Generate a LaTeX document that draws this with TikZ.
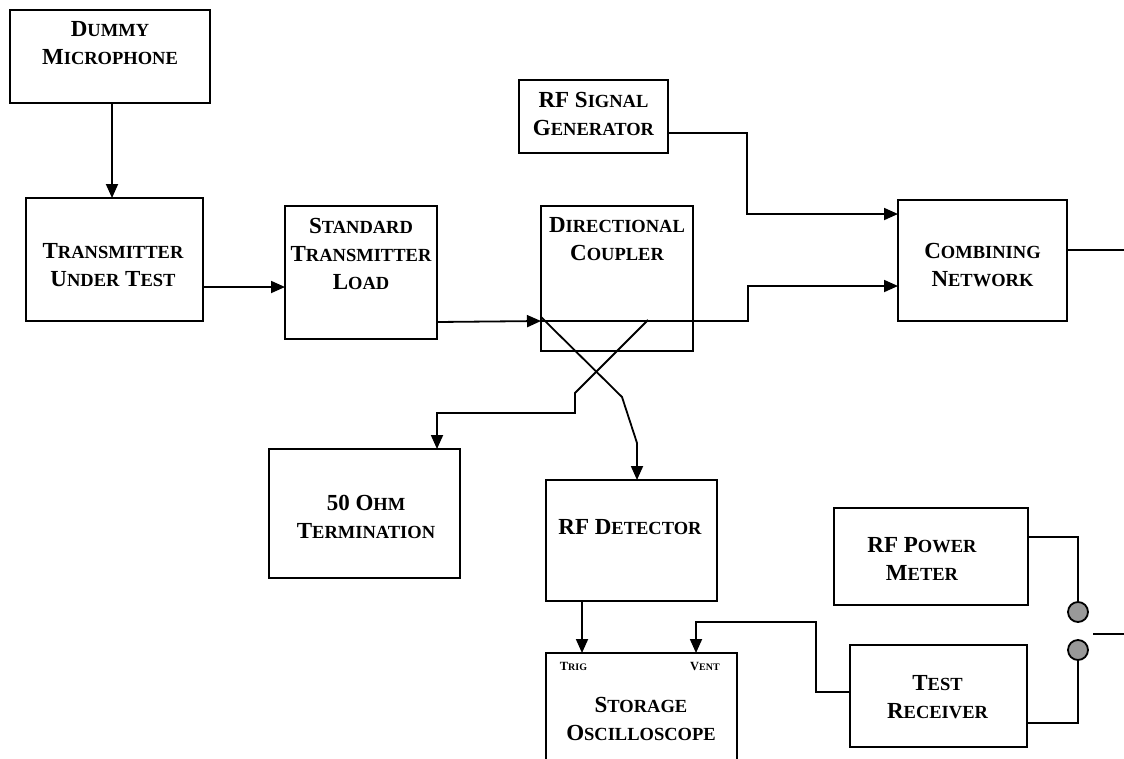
\documentclass[tikz,border=0pt]{standalone}
\usepackage{fontspec}
\setmainfont{Liberation Serif}
\usetikzlibrary{arrows.meta}
\newcommand\Bg{\fontsize{23}{28}\selectfont}
\newcommand\Sm{\fontsize{18.5}{28}\selectfont}
\newcommand\kp[2]{{\Bg #1}{\Sm #2}}
\newcommand\tBg{\fontsize{12.5}{14}\selectfont}
\newcommand\tSm{\fontsize{10}{14}\selectfont}
\newcommand\tkp[2]{{\tBg #1}{\tSm #2}}
\tikzset{
  box/.style={draw, line width=2pt, inner sep=0pt, outer sep=0pt},
  lbl/.style={font=\bfseries\Bg, align=center, inner sep=0pt},
  tlbl/.style={font=\bfseries\tBg, inner sep=0pt},
  wire/.style={line width=1.8pt},
  arr/.style={wire, -{Triangle[length=14pt,width=12pt]}},
  dot/.style={circle, draw, line width=1.8pt, fill=black!40, minimum size=20pt, inner sep=0pt, outer sep=0pt}
}
\newcommand\mkbox[5]{\node[box, minimum width={(#4)-(#2)}, minimum height={(#5)-(#3)}] (#1) at ({((#2)+(#4))/2},{((#3)+(#5))/2}) {};}
\begin{document}
\begin{tikzpicture}[x=1pt,y=-1pt]
\useasboundingbox (0,0) rectangle (1124,758);
\clip (0,0) rectangle (1124,758);
% boxes
\mkbox{dm}{10}{10}{210}{103}
\mkbox{tut}{26}{198}{203}{321}
\mkbox{stl}{285}{206}{437}{339}
\mkbox{dc}{541}{206}{693}{351}
\mkbox{sg}{519}{80}{668}{153}
\mkbox{cn}{898}{200}{1067}{321}
\mkbox{term}{269}{449}{460}{578}
\mkbox{rfd}{546}{480}{717}{601}
\mkbox{pm}{834}{508}{1028}{605}
\mkbox{so}{546}{653}{737}{790}
\mkbox{tr}{850}{645}{1027}{747}
\node[dot] (c1) at (1078,612) {};
\node[dot] (c2) at (1078,650) {};
% labels
\node[lbl] (tdm) at (110,43) {\kp{D}{UMMY}\\\kp{M}{ICROPHONE}};
\node[lbl] (ttut) at (113,265) {\kp{T}{RANSMITTER}\\\kp{U}{NDER} \kp{T}{EST}};
\node[lbl] (tstl) at (361,253.5) {\kp{S}{TANDARD}\\\kp{T}{RANSMITTER}\\\kp{L}{OAD}};
\node[lbl] (tdc) at (617,239) {\kp{D}{IRECTIONAL}\\\kp{C}{OUPLER}};
\node[lbl] (tsg) at (593.5,114) {\kp{RF S}{IGNAL}\\\kp{G}{ENERATOR}};
\node[lbl] (tcn) at (982.5,265.5) {\kp{C}{OMBINING}\\\kp{N}{ETWORK}};
\node[lbl] (tterm) at (366,516.5) {\kp{50 O}{HM}\\\kp{T}{ERMINATION}};
\node[lbl] (trfd) at (630,527) {\kp{RF D}{ETECTOR}};
\node[lbl] (tpm) at (922,558.5) {\kp{RF P}{OWER}\\\kp{M}{ETER}};
\node[lbl] (ttr) at (937.5,697) {\kp{T}{EST}\\\kp{R}{ECEIVER}};
\node[lbl] (tso) at (641,719) {\kp{S}{TORAGE}\\\kp{O}{SCILLOSCOPE}};
\node[tlbl] (trig) at (573.5,666) {\tkp{T}{RIG}};
\node[tlbl] (vent) at (705,666) {\tkp{V}{ENT}};
% free coordinates
\coordinate (dcx) at (648,320);
\coordinate (cnout) at (1124,250);
\coordinate (swa) at (1093,634);
\coordinate (swb) at (1124,634);
% connectors
\draw[arr] (dm.south -| 112,0) -- (tut.north -| 112,0);
\draw[arr] (tut.east |- 0,287) -- (stl.west |- 0,287);
\draw[arr] (stl.east |- 0,322) -- (dc.west |- 0,321);
\draw[arr] (dc.west |- 0,321) -- (748,321) -- (748,286) -- (cn.west |- 0,286);
\draw[arr] (sg.east |- 0,133) -- (747,133) -- (747,214) -- (cn.west |- 0,214);
\draw[arr] (dc.west |- 0,317) -- (622,397) -- (637,443) -- (rfd.north -| 637,0);
\draw[arr] (dcx) -- (575,393) -- (575,413) -- (437,413) -- (term.north -| 437,0);
\draw[arr] (rfd.south -| 582,0) -- (so.north -| 582,0);
\draw[arr] (tr.west |- 0,692) -- (816,692) -- (816,622) -- (696,622) -- (so.north -| 696,0);
\draw[wire] (cn.east |- cnout) -- (cnout);
\draw[wire] (pm.east |- 0,537) -- (1078,537) -- (c1.north);
\draw[wire] (c2.south) -- (1078,723) -- (tr.east |- 0,723);
\draw[wire] (swa) -- (swb);
\end{tikzpicture}
\end{document}
